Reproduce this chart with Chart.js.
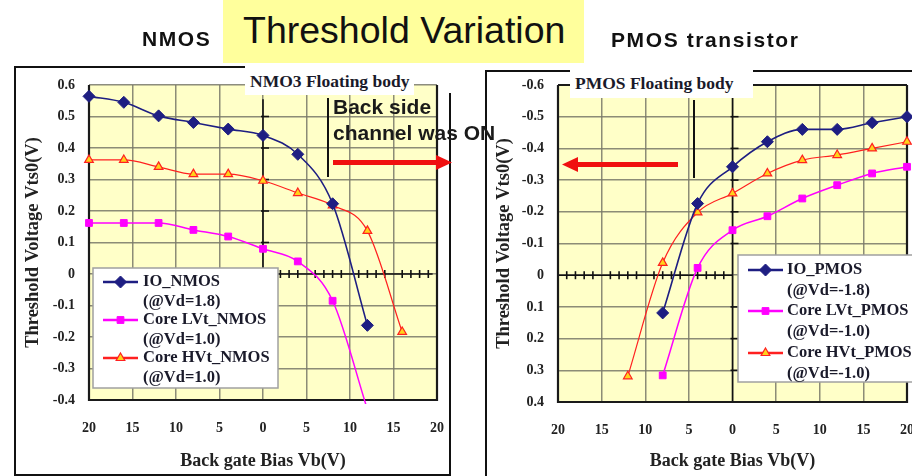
<!DOCTYPE html>
<html>
<head>
<meta charset="utf-8">
<script src="https://cdn.jsdelivr.net/npm/chart.js@4.4.0/dist/chart.umd.min.js"></script>
<style>
  html, body { margin: 0; padding: 0; background: #fff; overflow: hidden; }
  body { width: 912px; height: 476px; position: relative; }
  canvas { position: absolute; top: 0; z-index: 1; }
  #nmos_chart { left: 0; }
  #pmos_chart { left: 456px; }
  svg { position: absolute; left: 0; top: 0; z-index: 2; }
  .txt { position: absolute; white-space: nowrap; z-index: 3; color: #111; }
  .head { font: bold 21px "Liberation Sans", Arial, sans-serif; letter-spacing: 1.6px; }
  .tag { background: #fff; font: bold 17.5px "Liberation Serif", serif; color: #1a1a2a; line-height: 28px; padding-left: 5px; }
  .note { font: bold 21px "Liberation Sans", Arial, sans-serif; line-height: 24px; color: #1a1a1a; }
  #title_box { position: absolute; left: 223px; top: 0; width: 361px; height: 63px; background: #ffff9c; z-index: 4; }
  #title_box span { position: absolute; left: 20px; top: 9px; font: 37.5px "Liberation Sans", Arial, sans-serif; color: #111; }
</style>
</head>
<body>
<canvas id="nmos_chart" width="466" height="476"></canvas>
<canvas id="pmos_chart" width="486" height="476"></canvas>

<svg width="912" height="476">
  <g stroke="#111" stroke-width="2" fill="none">
    <polyline points="245,67 15,67 15,476" />
    <line x1="450" y1="93" x2="450" y2="476" />
    <line x1="15" y1="475" x2="450" y2="475" />
    <polyline points="570,71 486,71 486,476" />
    <line x1="753" y1="71" x2="912" y2="71" />
    <line x1="328" y1="98" x2="328" y2="177" />
    <line x1="694" y1="100" x2="694" y2="178" />
  </g>
  <g fill="#f01010">
    <rect x="333" y="160" width="104" height="5" />
    <polygon points="436,155 452,162.5 436,170" />
    <rect x="577" y="162" width="101" height="5" />
    <polygon points="578,157 562,164.5 578,172" />
  </g>
</svg>

<div class="txt head" style="left:142px; top:27px; word-spacing:5px;">NMOS transistor</div>
<div id="title_box"><span>Threshold Variation</span></div>
<div class="txt head" style="left:611px; top:28px;">PMOS transistor</div>
<div class="txt tag" style="left:245px; top:67px; width:164px;">NMO3 Floating body</div>
<div class="txt tag" style="left:570px; top:68px; width:178px; line-height:30px;">PMOS Floating body</div>
<div class="txt note" style="left:333px; top:95px;">Back side</div>
<div class="txt note" style="left:333px; top:121px;">channel was ON</div>

<script>
// axes
const xTicks = [-20, -15, -10, -5, 0, 5, 10, 15, 20];
const xTickLabels = ["20", "15", "10", "5", "0", "5", "10", "15", "20"];
const nmosYTicks = [0.6, 0.5, 0.4, 0.3, 0.2, 0.1, 0, -0.1, -0.2, -0.3, -0.4];
const nmosYTickLabels = ["0.6", "0.5", "0.4", "0.3", "0.2", "0.1", "0", "-0.1", "-0.2", "-0.3", "-0.4"];
const pmosYTicks = [-0.6, -0.5, -0.4, -0.3, -0.2, -0.1, 0, 0.1, 0.2, 0.3, 0.4];
const pmosYTickLabels = ["-0.6", "-0.5", "-0.4", "-0.3", "-0.2", "-0.1", "0", "0.1", "0.2", "0.3", "0.4"];

// NMOS data (back gate bias V, threshold V)
const nmosSeriesNames = ["IO_NMOS", "Core LVt_NMOS", "Core HVt_NMOS"];
const nmosSeriesNotes = ["(@Vd=1.8)", "(@Vd=1.0)", "(@Vd=1.0)"];
const nmosIoBias = [-20, -16, -12, -8, -4, 0, 4, 8, 12];
const nmosIoVt = [0.564, 0.545, 0.502, 0.481, 0.46, 0.44, 0.38, 0.223, -0.163];
const nmosLvtBias = [-20, -16, -12, -8, -4, 0, 4, 8, 12];
const nmosLvtVt = [0.162, 0.162, 0.162, 0.14, 0.119, 0.08, 0.04, -0.085, -0.43];
const nmosHvtBias = [-20, -16, -12, -8, -4, 0, 4, 8, 12, 16];
const nmosHvtVt = [0.362, 0.362, 0.34, 0.317, 0.317, 0.296, 0.257, 0.218, 0.137, -0.184];

// PMOS data
const pmosSeriesNames = ["IO_PMOS", "Core LVt_PMOS", "Core HVt_PMOS"];
const pmosSeriesNotes = ["(@Vd=-1.8)", "(@Vd=-1.0)", "(@Vd=-1.0)"];
const pmosIoBias = [-8, -4, 0, 4, 8, 12, 16, 20];
const pmosIoVt = [0.119, -0.226, -0.342, -0.421, -0.46, -0.46, -0.481, -0.5];
const pmosLvtBias = [-8, -4, 0, 4, 8, 12, 16, 20];
const pmosLvtVt = [0.316, -0.023, -0.142, -0.186, -0.242, -0.284, -0.321, -0.342];
const pmosHvtBias = [-12, -8, -4, 0, 4, 8, 12, 16, 20];
const pmosHvtVt = [0.319, -0.039, -0.198, -0.258, -0.321, -0.363, -0.379, -0.4, -0.421];

const ioStyle = {
    borderColor: "#1e1e82", backgroundColor: "#1e1e82", borderWidth: 1.6,
    pointStyle: "rectRot", pointRadius: 6, pointBorderWidth: 1,
};
const lvtStyle = {
    borderColor: "#ff00ff", backgroundColor: "#ff00ff", borderWidth: 1.5,
    pointStyle: "rect", pointRadius: 4.8, pointBorderWidth: 1,
};
const hvtStyle = {
    borderColor: "#ff2020", backgroundColor: "#ffd21a", borderWidth: 1.2,
    pointStyle: "triangle", pointRadius: 5, pointBorderWidth: 1.2,
};

function series(bias, vt, label, style) {
    return {
        label: label,
        data: bias.map((b, i) => ({ x: b, y: vt[i] })),
        cubicInterpolationMode: "monotone",
        clip: { left: 8, right: 8, top: 8, bottom: 4 },
        ...style,
    };
}

const serif = '"Liberation Serif", "Times New Roman", serif';

// background, frame and zero lines with small marks
const plotDecor = {
    id: "plotDecor",
    beforeDraw(chart, args, opts) {
        const { ctx, chartArea: a } = chart;
        ctx.save();
        ctx.fillStyle = "#ffffc8";
        ctx.fillRect(a.left, a.top, a.right - a.left, a.bottom - a.top);
        ctx.restore();
    },
    beforeDatasetsDraw(chart, args, opts) {
        const { ctx, chartArea: a, scales } = chart;
        const x = scales.x, y = scales.y;
        ctx.save();
        ctx.strokeStyle = "#111";
        ctx.lineWidth = 1.6;
        // horizontal zero line
        const y0 = y.getPixelForValue(0);
        ctx.beginPath();
        ctx.moveTo(x.getPixelForValue(opts.hLine[0]), y0);
        ctx.lineTo(x.getPixelForValue(opts.hLine[1]), y0);
        ctx.stroke();
        for (let v = Math.ceil(opts.hLine[0]); v <= opts.hLine[1]; v++) {
            if (v % 5 === 0) continue;
            const px = x.getPixelForValue(v);
            ctx.beginPath();
            ctx.moveTo(px, y0 - 4);
            ctx.lineTo(px, y0 + 4);
            ctx.stroke();
        }
        // vertical zero line
        const x0 = x.getPixelForValue(0);
        ctx.beginPath();
        ctx.moveTo(x0, y.getPixelForValue(opts.vLine[0]));
        ctx.lineTo(x0, y.getPixelForValue(opts.vLine[1]));
        ctx.stroke();
        opts.vMarks.forEach((v) => {
            const py = y.getPixelForValue(v);
            ctx.beginPath();
            ctx.moveTo(x0 - 2, py);
            ctx.lineTo(x0 + 6, py);
            ctx.stroke();
        });
        // plot frame
        ctx.lineWidth = 2.2;
        ctx.strokeStyle = "#1a1a1a";
        ctx.beginPath();
        if (opts.topBorder) {
            ctx.moveTo(a.left, a.top);
            ctx.lineTo(a.right, a.top);
        }
        ctx.moveTo(a.left, a.top);
        ctx.lineTo(a.left, a.bottom);
        ctx.lineTo(a.right, a.bottom);
        ctx.lineTo(a.right, a.top);
        ctx.stroke();
        ctx.restore();
    },
    afterDraw(chart, args, opts) {
        const { ctx } = chart;
        const lg = opts.legend;
        ctx.save();
        ctx.fillStyle = "#fff";
        ctx.strokeStyle = "#a0a0a0";
        ctx.lineWidth = 1.5;
        ctx.fillRect(lg.x, lg.y, lg.w, lg.h);
        ctx.strokeRect(lg.x, lg.y, lg.w, lg.h);
        chart.data.datasets.forEach((ds, i) => {
            const ry = lg.y + lg.rows[i];
            ctx.strokeStyle = ds.borderColor;
            ctx.lineWidth = 2.5;
            ctx.beginPath();
            ctx.moveTo(lg.x + 10, ry);
            ctx.lineTo(lg.x + 45, ry);
            ctx.stroke();
            ctx.fillStyle = ds.backgroundColor;
            ctx.strokeStyle = ds.borderColor;
            ctx.lineWidth = ds.pointBorderWidth;
            Chart.helpers.drawPoint(ctx, {
                pointStyle: ds.pointStyle,
                radius: ds.pointRadius,
                borderWidth: ds.pointBorderWidth,
            }, lg.x + 27.5, ry);
            ctx.fillStyle = "#1a1a2a";
            ctx.font = "bold 16.5px " + serif;
            ctx.textBaseline = "middle";
            ctx.fillText(ds.label, lg.x + lg.textX, ry);
            ctx.fillText(opts.notes[i], lg.x + lg.textX, ry + lg.gap);
        });
        ctx.restore();
    },
};

function axes(yMin, yMax, reverse, yTicks, yTickLabels, yWidth, xHeight) {
    return {
        x: {
            type: "linear",
            min: -20,
            max: 20,
            afterBuildTicks: (scale) => {
                scale.ticks = xTicks.map((v) => ({ value: v }));
            },
            afterFit: (scale) => {
                scale.height = xHeight;
            },
            ticks: {
                autoSkip: false,
                maxRotation: 0,
                padding: 20,
                color: "#222",
                font: { family: serif, size: 14, weight: "bold" },
                callback: (value, index) => xTickLabels[index],
            },
            grid: { color: "rgba(120,120,105,0.85)", lineWidth: 1.5, drawTicks: false },
            border: { display: false },
            title: {
                display: true,
                text: "Back gate Bias Vb(V)",
                color: "#222",
                padding: { top: 0, bottom: 4 },
                font: { family: serif, size: 18, weight: "bold" },
            },
        },
        y: {
            type: "linear",
            min: yMin,
            max: yMax,
            reverse: reverse,
            afterBuildTicks: (scale) => {
                scale.ticks = yTicks.map((v) => ({ value: v }));
            },
            afterFit: (scale) => {
                scale.width = yWidth;
            },
            ticks: {
                padding: 14,
                color: "#222",
                font: { family: serif, size: 14, weight: "bold" },
                callback: (value, index) => yTickLabels[index],
            },
            grid: { color: "rgba(120,120,105,0.85)", lineWidth: 1.5, drawTicks: false },
            border: { display: false },
            title: {
                display: true,
                text: "Threshold Voltage Vts0(V)",
                color: "#222",
                padding: { top: 0, bottom: 0 },
                font: { family: serif, size: 18.5, weight: "bold" },
            },
        },
    };
}

new Chart(document.getElementById("nmos_chart"), {
    type: "line",
    data: {
        datasets: [
            series(nmosIoBias, nmosIoVt, nmosSeriesNames[0], ioStyle),
            series(nmosLvtBias, nmosLvtVt, nmosSeriesNames[1], lvtStyle),
            series(nmosHvtBias, nmosHvtVt, nmosSeriesNames[2], hvtStyle),
        ],
    },
    options: {
        responsive: false,
        animation: false,
        devicePixelRatio: 1,
        layout: { padding: { left: 22, top: 85, right: 29, bottom: 0 } },
        scales: axes(-0.4, 0.6, false, nmosYTicks, nmosYTickLabels, 67, 76),
        plugins: {
            legend: { display: false },
            tooltip: { enabled: false },
            plotDecor: {
                hLine: [0, 19.5],
                vLine: [0.555, 0],
                vMarks: [0.5, 0.4, 0.3, 0.2, 0.1],
                topBorder: false,
                notes: nmosSeriesNotes,
                legend: { x: 93, y: 268, w: 185, h: 120, rows: [14, 52, 90], gap: 20, textX: 50 },
            },
        },
    },
    plugins: [plotDecor],
});

new Chart(document.getElementById("pmos_chart"), {
    type: "line",
    data: {
        datasets: [
            series(pmosIoBias, pmosIoVt, pmosSeriesNames[0], ioStyle),
            series(pmosLvtBias, pmosLvtVt, pmosSeriesNames[1], lvtStyle),
            series(pmosHvtBias, pmosHvtVt, pmosSeriesNames[2], hvtStyle),
        ],
    },
    options: {
        responsive: false,
        animation: false,
        devicePixelRatio: 1,
        layout: { padding: { left: 37, top: 85, right: 35, bottom: 0 } },
        scales: axes(-0.6, 0.4, true, pmosYTicks, pmosYTickLabels, 65, 74),
        plugins: {
            legend: { display: false },
            tooltip: { enabled: false },
            plotDecor: {
                hLine: [-20, 0],
                vLine: [-0.6, 0.4],
                vMarks: [-0.5, -0.4, -0.3, -0.2, -0.1, 0.1, 0.2, 0.3],
                topBorder: true,
                notes: pmosSeriesNotes,
                legend: { x: 282, y: 255, w: 210, h: 127, rows: [15, 56, 98], gap: 21, textX: 49 },
            },
        },
    },
    plugins: [plotDecor],
});
</script>
</body>
</html>
